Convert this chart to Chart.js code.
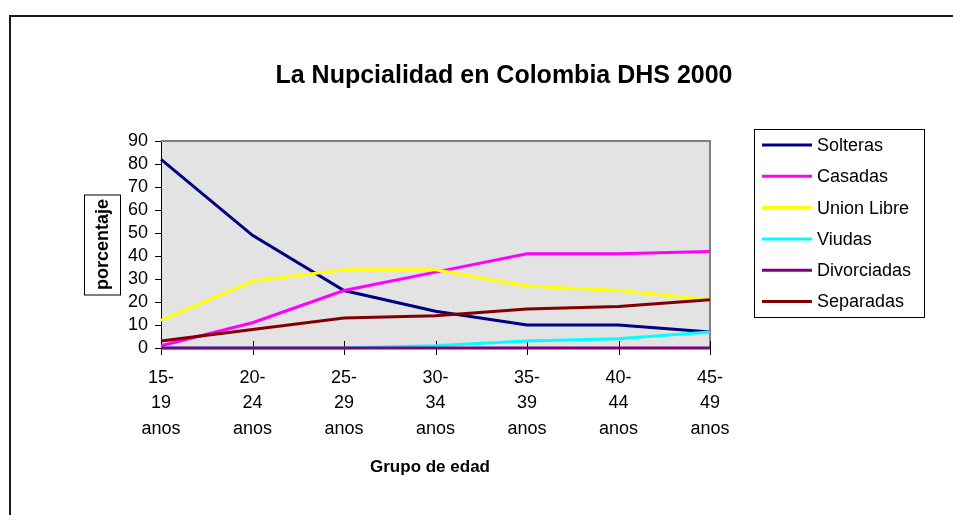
<!DOCTYPE html>
<html>
<head>
<meta charset="utf-8">
<script src="https://cdn.jsdelivr.net/npm/chart.js@4/dist/chart.umd.min.js"></script>
<style>
  html, body { margin: 0; padding: 0; background: #fff; }
  canvas { display: block; }
</style>
</head>
<body>
<canvas id="chartNupcialidad" width="953" height="515"></canvas>
<script>
// La Nupcialidad en Colombia DHS 2000

const CATEGORIES = [
  ['15-', '19', 'anos'],
  ['20-', '24', 'anos'],
  ['25-', '29', 'anos'],
  ['30-', '34', 'anos'],
  ['35-', '39', 'anos'],
  ['40-', '44', 'anos'],
  ['45-', '49', 'anos'],
];

const SOLTERAS    = [82, 49, 25, 16, 10, 10, 7];
const CASADAS     = [1, 11, 25, 33, 41, 41, 42];
const UNION_LIBRE = [12, 29, 34, 34, 27, 25, 21];
const VIUDAS      = [0, 0, 0, 1, 3, 4, 7];
const DIVORCIADAS = [0, 0, 0, 0, 0, 0, 0];
const SEPARADAS   = [3, 8, 13, 14, 17, 18, 21];

const Y_MIN = 0;
const Y_MAX = 90;
const Y_STEP = 10;

const COLORS = {
  navy: '#000080',
  magenta: '#FF00FF',
  yellow: '#FFFF00',
  cyan: '#00FFFF',
  purple: '#800080',
  maroon: '#800000',
  plotBg: '#E3E3E3',
  plotBorder: '#808080',
  ink: '#000000',
};

const FONT = "'Liberation Sans', Arial, sans-serif";
Chart.defaults.font.family = FONT;
Chart.defaults.font.size = 18;
Chart.defaults.color = COLORS.ink;

// frame, plot background, title, axis titles and the boxed legend
const excelLook = {
  id: 'excelLook',
  beforeDraw(chart) {
    const { ctx, chartArea: a } = chart;
    ctx.save();
    ctx.fillStyle = COLORS.plotBg;
    ctx.fillRect(a.left, a.top, a.right - a.left, a.bottom - a.top);
    ctx.restore();
  },
  beforeDatasetsDraw(chart) {
    const { ctx, chartArea: a, scales } = chart;
    ctx.save();
    // gray top / right edges of the plot area
    ctx.strokeStyle = COLORS.plotBorder;
    ctx.lineWidth = 2;
    ctx.beginPath();
    ctx.moveTo(a.left, a.top);
    ctx.lineTo(a.right, a.top);
    ctx.lineTo(a.right, a.bottom);
    ctx.stroke();
    // cross tick marks on the category axis
    ctx.strokeStyle = COLORS.ink;
    ctx.lineWidth = 1;
    const xs = scales.x;
    xs.ticks.forEach((t, i) => {
      const px = Math.round(xs.getPixelForTick(i)) + 0.5;
      ctx.beginPath();
      ctx.moveTo(px, a.bottom - 7);
      ctx.lineTo(px, a.bottom + 7);
      ctx.stroke();
    });
    ctx.restore();
  },
  afterDraw(chart) {
    const { ctx, chartArea: a } = chart;
    ctx.save();

    // outer chart frame (runs off the right/bottom edges)
    ctx.strokeStyle = '#1a1a1a';
    ctx.lineWidth = 2;
    ctx.beginPath();
    ctx.moveTo(10, chart.height + 2);
    ctx.lineTo(10, 16);
    ctx.lineTo(chart.width + 2, 16);
    ctx.stroke();

    // chart title
    ctx.fillStyle = COLORS.ink;
    ctx.textAlign = 'center';
    ctx.textBaseline = 'middle';
    ctx.font = `bold 25px ${FONT}`;
    ctx.fillText('La Nupcialidad en Colombia DHS 2000', 504, 76);

    // x axis title
    ctx.font = `bold 17px ${FONT}`;
    ctx.fillText('Grupo de edad', 430, 467);

    // y axis title, boxed and rotated
    const cy = (a.top + a.bottom) / 2;
    ctx.save();
    ctx.translate(102, cy);
    ctx.rotate(-Math.PI / 2);
    ctx.font = `bold 18px ${FONT}`;
    ctx.fillText('porcentaje', 0, 1);
    ctx.restore();
    ctx.strokeStyle = COLORS.ink;
    ctx.lineWidth = 1;
    ctx.strokeRect(84.5, cy - 49.5, 36, 100);

    // legend
    const lx = 754.5, ly = 129.5, lw = 170, lh = 188;
    ctx.strokeRect(lx, ly, lw, lh);
    ctx.textAlign = 'left';
    ctx.font = `18px ${FONT}`;
    chart.data.datasets.forEach((ds, i) => {
      const y = 145 + i * 31.3;
      ctx.strokeStyle = ds.borderColor;
      ctx.lineWidth = 3;
      ctx.beginPath();
      ctx.moveTo(762, y);
      ctx.lineTo(812, y);
      ctx.stroke();
      ctx.fillStyle = COLORS.ink;
      ctx.fillText(ds.label, 817, y + 1);
    });
    ctx.restore();
  }
};

const series = [
  { label: 'Solteras', data: SOLTERAS, color: COLORS.navy },
  { label: 'Casadas', data: CASADAS, color: COLORS.magenta },
  { label: 'Union Libre', data: UNION_LIBRE, color: COLORS.yellow },
  { label: 'Viudas', data: VIUDAS, color: COLORS.cyan },
  { label: 'Divorciadas', data: DIVORCIADAS, color: COLORS.purple },
  { label: 'Separadas', data: SEPARADAS, color: COLORS.maroon },
];

new Chart(document.getElementById('chartNupcialidad'), {
  type: 'line',
  data: {
    labels: CATEGORIES,
    datasets: series.map((s, i) => ({
      label: s.label,
      data: s.data,
      borderColor: s.color,
      backgroundColor: s.color,
      borderWidth: 3,
      pointRadius: 0,
      tension: 0,
      fill: false,
      clip: false,
      order: series.length - i, // later series painted on top, like Excel
    })),
  },
  options: {
    responsive: false,
    animation: false,
    layout: { padding: { left: 0, top: 141, right: 243, bottom: 0 } },
    plugins: {
      legend: { display: false },
      title: { display: false },
      tooltip: { enabled: false },
    },
    scales: {
      x: {
        type: 'category',
        offset: false,
        grid: { display: false, drawTicks: false },
        border: { display: true, color: COLORS.ink, width: 1 },
        ticks: {
          maxRotation: 0,
          autoSkip: false,
          padding: 17,
          font: { size: 18, lineHeight: 1.42 },
          color: COLORS.ink,
        },
        afterFit(scale) {
          scale.height = 167;
          scale.paddingLeft = 0;
          scale.paddingRight = 0;
        },
      },
      y: {
        min: Y_MIN,
        max: Y_MAX,
        grid: {
          drawOnChartArea: false,
          drawTicks: true,
          tickLength: 6,
          color: COLORS.ink,
        },
        border: { display: true, color: COLORS.ink, width: 1 },
        ticks: {
          stepSize: Y_STEP,
          autoSkip: false,
          padding: 7,
          font: { size: 18 },
          color: COLORS.ink,
        },
        afterFit(scale) {
          scale.width = 161;
          scale.paddingTop = 0;
          scale.paddingBottom = 0;
        },
      },
    },
  },
  plugins: [excelLook],
});
</script>
</body>
</html>
